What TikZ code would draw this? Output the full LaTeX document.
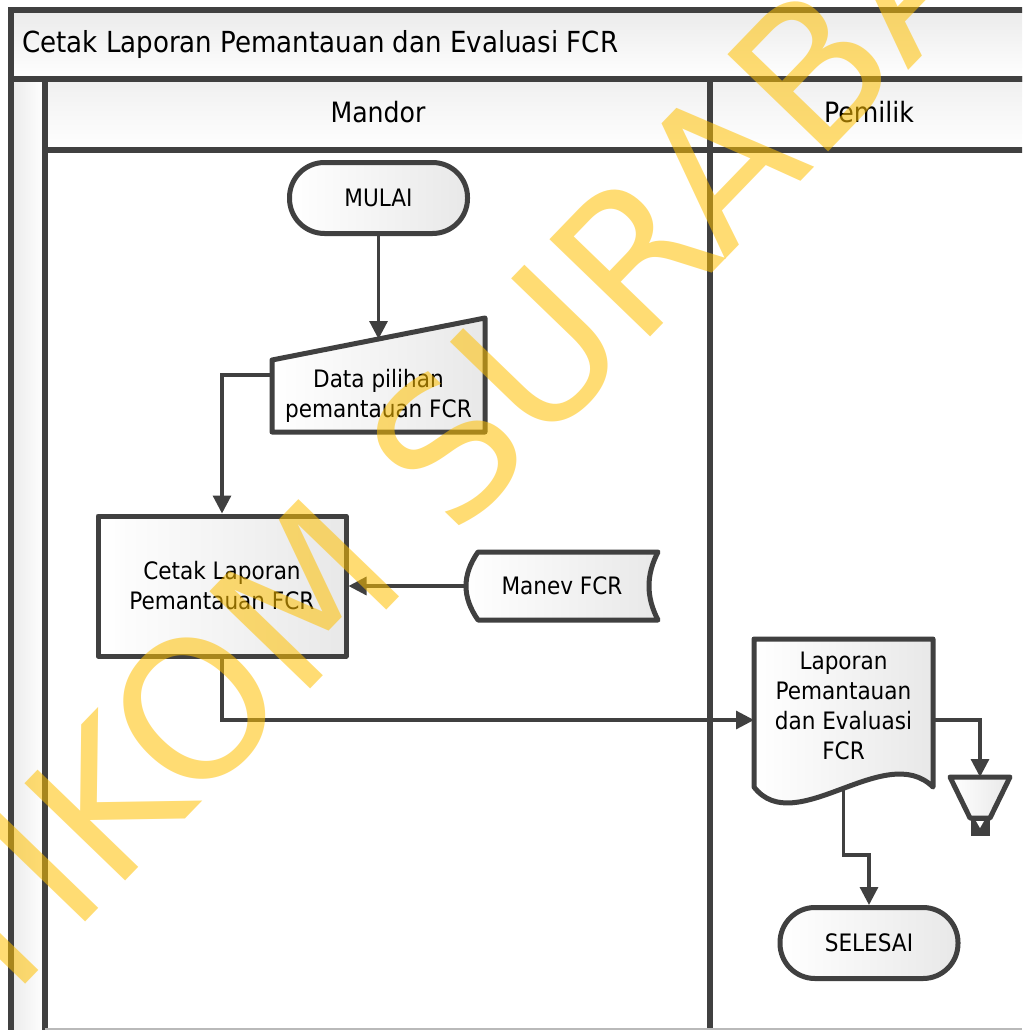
\documentclass[tikz,border=0pt]{standalone}
\usepackage{fontspec}
\setmainfont{DejaVu Sans Condensed}
\newfontfamily\wmfont{DejaVu Sans}
\usetikzlibrary{arrows.meta,calc}
\definecolor{ink}{HTML}{404040}
\definecolor{wmyellow}{HTML}{FFC000}
\begin{document}
\begin{tikzpicture}[x=1pt,y=-1pt,
  poolline/.style={draw=ink,line width=5.5pt},
  shapeline/.style={draw=ink,line width=5pt,line join=round},
  grad/.style={left color=white,right color=black!9},
  lbl/.style={font=\fontsize{24}{30}\selectfont,align=center,text=black,inner sep=0pt},
  term/.style={shapeline,grad,lbl,rectangle,rounded corners=35pt,minimum width=178pt,minimum height=71pt},
  procbox/.style={shapeline,grad,lbl,rectangle,minimum width=248pt,minimum height=140pt},
  frame/.style={inner sep=0pt,outer sep=0pt},
  flow/.style={draw=ink,line width=3.2pt,-{Triangle[length=18pt,width=18pt]}},
  wm/.style={font=\wmfont\fontsize{192}{192}\selectfont,text=wmyellow,text opacity=0.55,inner sep=0pt,rotate=46,anchor=base},
]
\useasboundingbox (0,0) rectangle (1022,1030);
\clip (0,0) rectangle (1022,1030);
\fill[white] (0,0) rectangle (1022,1030);

% pool: title band, lane headers, left strip, lane separators
\draw[poolline,top color=black!8,bottom color=white] (11,10) rectangle (1060,79);
\draw[poolline,left color=black!8,right color=white] (11,79) rectangle (45,1060);
\draw[poolline,top color=black!6,bottom color=white] (45,79) rectangle (710,150);
\draw[poolline,top color=black!6,bottom color=white] (710,79) rectangle (1060,150);
\draw[poolline] (710,150) -- (710,1060);
\draw[gray!55,line width=1.2pt] (45,1029) -- (1022,1029);

\node[anchor=base west,inner sep=0pt,font=\fontsize{29}{30}\selectfont] (title) at (22,53) {Cetak Laporan Pemantauan dan Evaluasi FCR};
\node[anchor=base,inner sep=0pt,font=\fontsize{28}{30}\selectfont] (mandor) at (378,123) {Mandor};
\node[anchor=base,inner sep=0pt,font=\fontsize{28}{30}\selectfont] (pemilik) at (869,123) {Pemilik};

% start terminator
\node[term] (mulai) at (378.5,198) {MULAI};

% manual input
\node[frame,minimum width=213pt,minimum height=114pt] (inp) at (378.5,375) {};
\draw[shapeline,grad] (inp.south west) -- (inp.south east) -- (inp.north east)
  -- ([yshift=-42pt]inp.north west) -- cycle;
\node[lbl] (inptxt) at (378.5,396) {Data pilihan\\pemantauan FCR};
\coordinate (inpin) at ($([yshift=-42pt]inp.north west)!0.5!(inp.north east)$);

% process
\node[procbox] (proc) at (222,586) {Cetak Laporan\\Pemantauan FCR};

% stored data
\node[frame,minimum width=192pt,minimum height=68pt] (manev) at (562,586) {};
\draw[shapeline,grad,shift={(manev.center)}] (-84,-34) -- (96,-34)
  .. controls (84,-11) and (84,11) .. (96,34) -- (-84,34)
  .. controls (-100,11) and (-100,-11) .. (-84,-34) -- cycle;
\node[lbl] (manevtxt) at (562,586) {Manev FCR};

% document
\node[frame,minimum width=179pt,minimum height=162pt] (doc) at (843.5,720) {};
\draw[shapeline,grad,shift={(doc.center)}] (-89.5,-81) -- (89.5,-81) -- (89.5,67)
  .. controls (41.5,20) and (-48.5,120) .. (-89.5,67) -- cycle;
\node[lbl] (doctxt) at (843.5,706) {Laporan\\Pemantauan\\dan Evaluasi\\FCR};
\coordinate (docbot) at ($(doc.center)+(0,69)$);

% offline storage
\node[frame,minimum width=60pt,minimum height=58pt] (store) at (980,806) {};
\draw[shapeline,grad,shift={(store.center)}] (-30,-29) -- (30,-29) -- (10,12) -- (-10,12) -- cycle;
\fill[ink,shift={(store.center)}] (-9.5,10) rectangle (9.5,30);
\fill[white,shift={(store.center)}] (-4,15) -- (4,15) -- (0,22) -- cycle;

% end terminator
\node[term] (sel) at (869,943) {SELESAI};

% connectors
\draw[flow] (mulai.south) -- (inpin);
\draw[flow] (inp.west) -| (proc.north);
\draw[flow] (manev.west) -- (proc.east);
\draw[flow] (proc.south) |- (doc.west);
\draw[flow] (doc.east) -| (store.north);
\draw[flow] (docbot) -- ++(0,66) -| (sel.north);

% watermark
\node[wm] (wmark) at (528.6,463.3) {STIKOM SURABAYA};
\end{tikzpicture}
\end{document}
